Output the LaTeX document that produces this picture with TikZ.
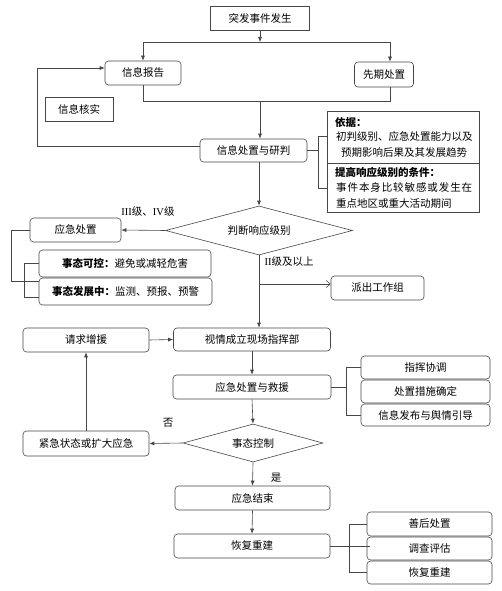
\documentclass[tikz,border=0pt]{standalone}
\usepackage{fontspec}
\setmainfont{Liberation Serif}
\newfontfamily\cjk{Noto Sans CJK SC}
\usetikzlibrary{shapes.geometric,arrows.meta}
\tikzset{
  conn/.style={draw=black!72, line width=0.6pt},
  arr/.style={conn, -{Latex[length=5pt,width=4pt]}},
  openarr/.style={conn, -{Straight Barb[length=4pt,width=7pt]}},
  base/.style={draw=black!72, line width=0.6pt, inner sep=0pt, text=black,
    font=\cjk\fontsize{10.5}{12}\selectfont},
  sbox/.style={base, rectangle},
  rbox/.style={base, rectangle, rounded corners=3.5pt},
  dia/.style={base, diamond},
  txt/.style={inner sep=0pt, text=black, font=\cjk\fontsize{10.5}{12}\selectfont},
}
\begin{document}
\begin{tikzpicture}[x=1pt,y=-1pt]
\useasboundingbox (0,0) rectangle (501,591);
% nodes
\node[sbox, minimum width=99pt, minimum height=24pt] (top) at (260,18) {突发事件发生};
\node[rbox, minimum width=76pt, minimum height=24pt] (xxbg) at (143,73) {信息报告};
\node[rbox, minimum width=59pt, minimum height=25pt] (xqcz) at (384,74.5) {先期处置};
\node[sbox, minimum width=68pt, minimum height=24pt] (xxhs) at (79,109) {信息核实};
\node[rbox, minimum width=107pt, minimum height=23pt] (xxyp) at (253.5,150.5) {信息处置与研判};
\node[sbox, minimum width=152pt, minimum height=101pt] (info) at (403,161.5) {};
\node[txt, anchor=west] (t1) at (335,122) {\bfseries 依据：};
\node[txt, anchor=west] (t2) at (336,137) {初判级别、应急处置能力以及};
\node[txt, anchor=west] (t3) at (341,153) {预期影响后果及其发展趋势};
\node[txt, anchor=west] (t4) at (335,172) {\bfseries 提高响应级别的条件：};
\node[txt, anchor=west] (t5) at (336,188) {\makebox[136pt][s]{事\hfill 件\hfill 本\hfill 身\hfill 比\hfill 较\hfill 敏\hfill 感\hfill 或\hfill 发\hfill 生\hfill 在}};
\node[txt, anchor=west] (t6) at (336,204) {重点地区或重大活动期间};
\node[dia, minimum width=187pt, minimum height=49pt, aspect=3.8] (d1) at (259,230.5) {判断响应级别};
\node[txt] (l1) at (148,212) {\textrm{III}级、\textrm{IV}级};
\node[rbox, minimum width=91pt, minimum height=24pt] (yjcz) at (75.5,230) {应急处置};
\node[rbox, minimum width=172pt, minimum height=27pt] (stkk) at (125,263.5) {\bfseries 事态可控：\mdseries 避免或减轻危害};
\node[rbox, minimum width=173pt, minimum height=27pt] (stfz) at (125.5,291.5) {\bfseries 事态发展中：\mdseries 监测、预报、预警};
\node[txt] (l2) at (289,262) {\textrm{II}级及以上};
\node[rbox, minimum width=93pt, minimum height=24pt] (pcgzz) at (377.5,288) {派出工作组};
\node[rbox, minimum width=126pt, minimum height=24pt] (qqzy) at (86,340) {请求增援};
\node[rbox, minimum width=157pt, minimum height=23pt] (xqcl) at (252,339.5) {视情成立现场指挥部};
\node[rbox, minimum width=158pt, minimum height=24pt] (yjjy) at (252,387) {应急处置与救援};
\node[rbox, minimum width=129pt, minimum height=23pt] (r1a) at (425.5,367.5) {指挥协调};
\node[rbox, minimum width=129pt, minimum height=23pt] (r1b) at (425.5,391.5) {处置措施确定};
\node[rbox, minimum width=129pt, minimum height=22pt] (r1c) at (425.5,415) {信息发布与舆情引导};
\node[dia, minimum width=140pt, minimum height=38pt, aspect=3.7] (d2) at (253,443) {事态控制};
\node[txt] (l3) at (168,423) {否};
\node[rbox, minimum width=126pt, minimum height=25pt] (jjzt) at (86,443.5) {紧急状态或扩大应急};
\node[txt] (l4) at (276,478) {是};
\node[rbox, minimum width=155pt, minimum height=24pt] (yjjs) at (252.5,498) {应急结束};
\node[rbox, minimum width=156pt, minimum height=24pt] (hfcj) at (252,546) {恢复重建};
\node[rbox, minimum width=125pt, minimum height=24pt] (r2a) at (429.5,524) {善后处置};
\node[rbox, minimum width=125pt, minimum height=23pt] (r2b) at (429.5,548.5) {调查评估};
\node[rbox, minimum width=125pt, minimum height=23pt] (r2c) at (429.5,572.5) {恢复重建};
% coordinates
\coordinate (j1) at (260,42);
\coordinate (c390) at (390,0);
\coordinate (b1) at (143,101);
\coordinate (b2) at (390,101);
\coordinate (j2) at (260,101);
\coordinate (lp1) at (37,146);
\coordinate (lp2) at (37,68);
\coordinate (k1) at (318,136);
\coordinate (k2) at (318,188);
\coordinate (o1) at (11,230);
\coordinate (o2) at (11,281);
\coordinate (i1) at (24,263);
\coordinate (i2) at (24,297);
\coordinate (j3) at (259,284);
\coordinate (br1) at (346,0);
\coordinate (br2) at (349,0);
% divider in info box
\draw[conn] ([yshift=-1.5pt]info.west) -- ([yshift=-1.5pt]info.east);
% connectors
\draw[arr] (top.south) -- (j1);
\draw[arr] (j1) -| (xxbg.north);
\draw[arr] (j1) -| (xqcz.north -| c390);
\draw[conn] (xxbg.south) -- (b1) -- (b2) -- (xqcz.south -| c390);
\draw[arr] (j2) -- (xxyp.north -| j2);
\draw[arr] ([yshift=4.5pt]xxyp.west) -- (lp1) -- (lp2) -- (xxbg.west |- lp2);
\draw[conn] (xxyp.east) -- (xxyp.east -| k1);
\draw[conn] (info.west |- k1) -- (k1) -- (k2) -- (info.west |- k2);
\draw[arr] (xxyp.south -| d1.north) -- (d1.north);
\draw[arr] (d1.west) -- (yjcz.east);
\draw[conn] (yjcz.west) -- (o1) -- (o2) -- (stkk.west |- o2);
\draw[conn] (stkk.west |- i1) -- (i1) -- (i2) -- (stfz.west |- i2);
\draw[arr] (d1.south) -- (d1.south |- xqcl.north);
\draw[openarr] (j3) -- (j3 -| pcgzz.west);
\draw[arr] (qqzy.east) -- (xqcl.west);
\draw[arr] (xqcl.south) -- (yjjy.north);
\draw[conn] (yjjy.east) -- (yjjy.east -| br1);
\draw[conn] (r1a.west) -- (r1a.west -| br1) -- (r1c.west -| br1) -- (r1c.west);
\draw[arr] (yjjy.south) -- (d2.north);
\draw[arr] (d2.west) -- (jjzt.east);
\draw[arr] (jjzt.north) -- (qqzy.south);
\draw[arr] (d2.south) -- (yjjs.north);
\draw[arr] (yjjs.south) -- (hfcj.north);
\draw[conn] (hfcj.east) -- ([xshift=3pt]hfcj.east -| r2b.west);
\draw[conn] (r2a.west) -- (r2a.west -| br2) -- (r2c.west -| br2) -- (r2c.west);
\end{tikzpicture}
\end{document}
